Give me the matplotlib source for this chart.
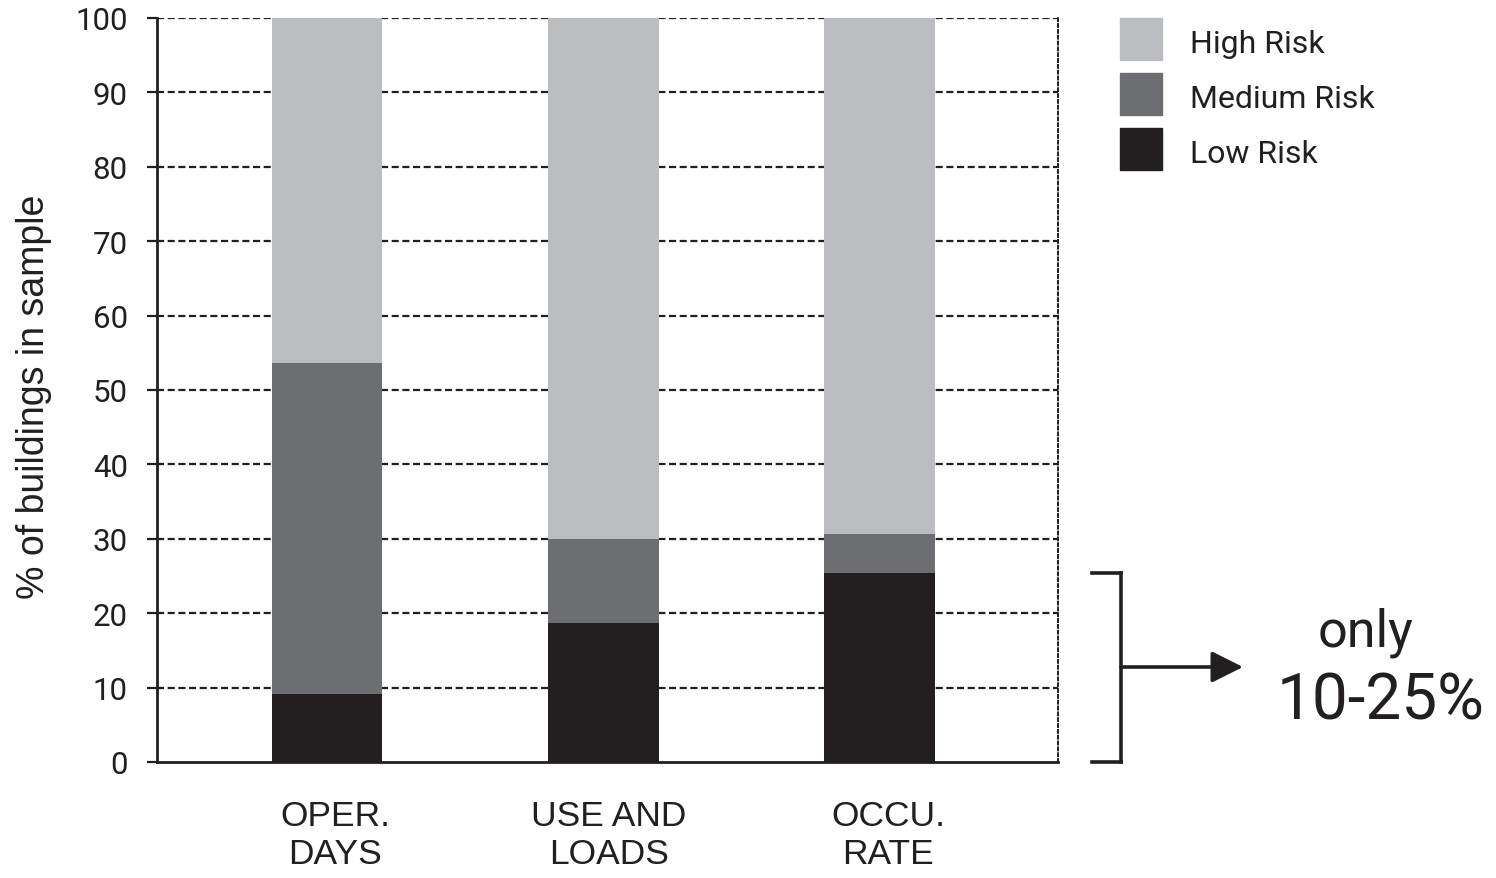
import matplotlib
matplotlib.use("Agg")
import matplotlib.pyplot as plt
from matplotlib.patches import Rectangle, FancyArrowPatch
from matplotlib.lines import Line2D

plt.rcParams['font.family'] = ['Roboto', 'Liberation Sans', 'DejaVu Sans']
REG = ['Liberation Sans', 'DejaVu Sans']

categories = ["OPER.\nDAYS", "USE AND\nLOADS", "OCCU.\nRATE"]
low_risk = [9.1, 18.7, 25.4]
medium_risk = [44.5, 11.3, 5.2]
high_risk = [46.4, 70.0, 69.4]
series_names = ["High Risk", "Medium Risk", "Low Risk"]
yticks = [0, 10, 20, 30, 40, 50, 60, 70, 80, 90, 100]

c_low = "#231f20"
c_med = "#6d6e71"
c_high = "#bcbdc0"
txt = "#231f20"

fig = plt.figure(figsize=(14.96, 8.79), dpi=100)
ax = fig.add_axes([157/1496, 1-763/879, (1058-157)/1496, (763-19)/879])

x = [0, 1, 2]
w = 0.40
for yv in yticks[1:]:
    ax.axhline(yv, color=txt, lw=1.6, ls=(0, (3.2, 1.6)), zorder=1)

ax.bar(x, low_risk, width=w, color=c_low, zorder=2)
bottom2 = list(low_risk)
ax.bar(x, medium_risk, width=w, bottom=bottom2, color=c_med, zorder=2)
bottom3 = [a + b for a, b in zip(low_risk, medium_risk)]
ax.bar(x, high_risk, width=w, bottom=bottom3, color=c_high, zorder=2)

ax.set_xlim(-0.615, 2.645)
ax.set_ylim(0, 100)
ax.set_yticks(yticks)
ax.set_yticklabels([str(v) for v in yticks], fontsize=22.5, color=txt)
ax.tick_params(axis='y', length=7, width=1.6, color=txt, pad=14)
ax.set_xticks([0.03, 1.02, 2.03])
ax.set_xticklabels(categories, fontsize=25.5, color=txt, linespacing=1.18, family=REG)
ax.tick_params(axis='x', length=0, pad=27)

ax.spines['top'].set_visible(False)
for s in ('left', 'bottom'):
    ax.spines[s].set_linewidth(2.0)
    ax.spines[s].set_color(txt)
ax.spines['right'].set_linestyle((0, (1.5, 1.5)))
ax.spines['right'].set_linewidth(1.4)
ax.spines['right'].set_color(txt)
ax.spines['left'].set_zorder(3)

ax.set_ylabel("% of buildings in sample", fontsize=27, color=txt, family=REG)
ax.yaxis.set_label_coords((52-157)/901, 0.492)

W, H = 1496, 879
leg_cols = [c_high, c_med, c_low]
leg_tops = [19, 74, 129]
for name, col, top in zip(series_names, leg_cols, leg_tops):
    fig.add_artist(Rectangle((1120/W, 1-(top+42)/H), 42/W, 42/H,
                             transform=fig.transFigure, color=col))
    fig.text(1190/W, 1-(top+34)/H, name, fontsize=23, color=txt,
             va='baseline', ha='left')

lw_b = 2.6
fig.add_artist(Line2D([1092/W, 1121/W], [1-574/H, 1-574/H], transform=fig.transFigure, color=txt, lw=lw_b))
fig.add_artist(Line2D([1121/W, 1121/W], [1-574/H, 1-763/H], transform=fig.transFigure, color=txt, lw=lw_b))
fig.add_artist(Line2D([1092/W, 1121/W], [1-763/H, 1-763/H], transform=fig.transFigure, color=txt, lw=lw_b))
fig.add_artist(FancyArrowPatch((1121/W, 1-668/H), (1243/W, 1-668/H), transform=fig.transFigure,
                               arrowstyle='-|>,head_length=12,head_width=6', mutation_scale=1.6,
                               color=txt, lw=lw_b, shrinkA=0, shrinkB=0))
fig.text(1366/W, 1-647/H, "only", fontsize=37.5, color=txt, ha='center', va='baseline')
fig.text(1381/W, 1-720/H, "10-25%", fontsize=46, color=txt, ha='center', va='baseline')

fig.savefig("out.png", dpi=100)
